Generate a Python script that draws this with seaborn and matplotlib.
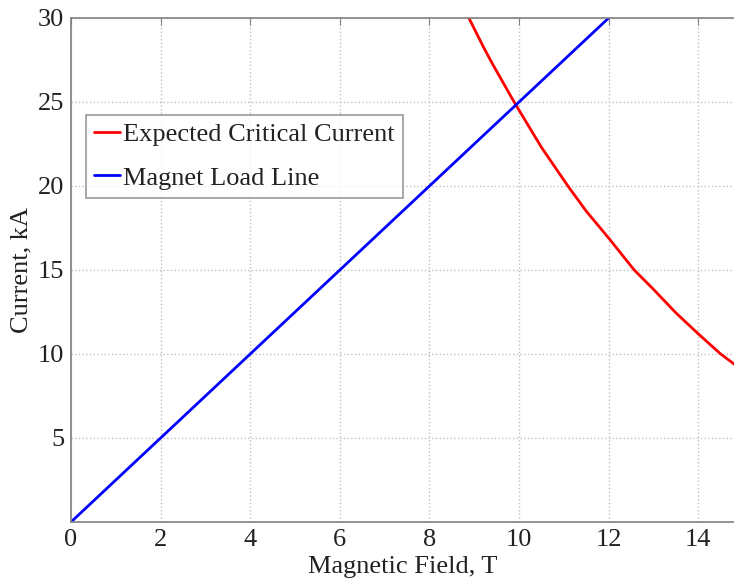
import numpy as np
import pandas as pd
import matplotlib
matplotlib.use("Agg")
import matplotlib.pyplot as plt
import seaborn as sns

# Values
crit_field = [8.88, 9.2, 9.4, 9.89, 10.5, 11.09, 11.5, 12.0, 12.3, 12.57,
              13.0, 13.5, 14.0, 14.25, 14.5, 14.85]
crit_current = [30, 28.3, 27.3, 25, 22.3, 20, 18.5, 16.9, 15.9, 15,
                13.85, 12.45, 11.2, 10.6, 10, 9.3]
load_field = [0, 12]
load_current = [0, 30]
x_ticks = [0, 2, 4, 6, 8, 10, 12, 14]
y_ticks = [5, 10, 15, 20, 25, 30]

sns.set_style("white")
plt.rcParams['font.family'] = ['Liberation Serif', 'DejaVu Serif']

fig = plt.figure(figsize=(7.34, 5.8), dpi=100)
ax = fig.add_axes([71 / 734, 58 / 580, 1 - 71 / 734 + 0.002, (522 - 18) / 580])

crit = pd.DataFrame({"field": crit_field, "current": crit_current})
load = pd.DataFrame({"field": load_field, "current": load_current})
sns.lineplot(data=crit, x="field", y="current", color="#ff0000", lw=2,
             label="Expected Critical Current", ax=ax, sort=False)
sns.lineplot(data=load, x="field", y="current", color="#0000ff", lw=2,
             label="Magnet Load Line", ax=ax, sort=False)

ax.set_xlim(0, 14.83)
ax.set_ylim(0, 30)
ax.set_xticks(x_ticks)
ax.set_yticks(y_ticks)
ax.tick_params(direction="in", length=5, color="#808080", labelsize=19,
               top=True, right=False, pad=5, labelcolor="#222222")
ax.grid(True, linestyle=":", color="#c0c0c0", lw=1)
for s in ["left", "bottom", "top"]:
    ax.spines[s].set_color("#808080")
    ax.spines[s].set_linewidth(1.2)
ax.spines["right"].set_visible(False)

ax.set_xlabel("Magnetic Field, T", fontsize=19, labelpad=4, color="#222222")
ax.set_ylabel("Current, kA", fontsize=19, labelpad=4, color="#222222")

leg = ax.legend(loc="upper left", bbox_to_anchor=(0.0226, 0.8075), fontsize=19,
                frameon=True, fancybox=False, edgecolor="#808080",
                handlelength=1.0, handletextpad=0.12, borderpad=0.3,
                labelspacing=0.75, borderaxespad=0)
leg.get_frame().set_linewidth(1.2)
for t in leg.get_texts():
    t.set_color("#222222")

fig.savefig("out.png", dpi=100)
